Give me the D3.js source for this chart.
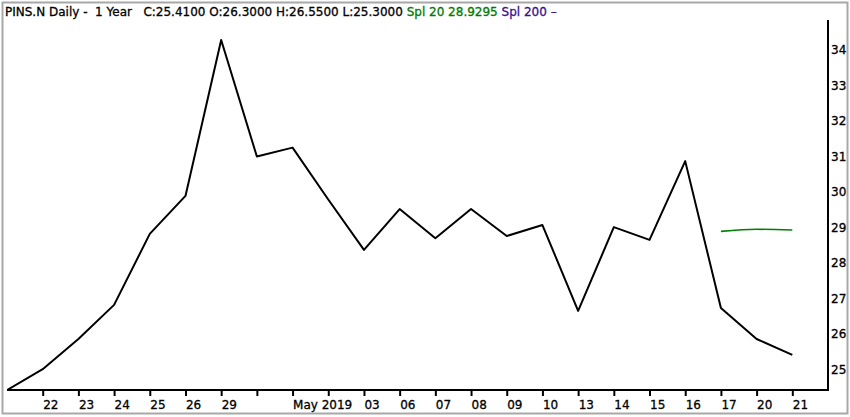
<!DOCTYPE html>
<html><head><meta charset="utf-8">
<script src="https://cdn.jsdelivr.net/npm/d3@7"></script>
<style>body{margin:0;background:#fff}svg{display:block}text{font-family:"DejaVu Sans",sans-serif}</style>
</head><body><svg id="c" width="850" height="417"></svg>
<script>
const tickLabels = ["", "22","23","24","25","26","29","","May 2019","","03","06","07","08","09","10","13","14","15","16","17","20","21"];
const closeValues = [24.42,25.01,25.86,26.82,28.82,29.89,34.28,31.0,31.25,29.79,28.37,29.52,28.70,29.52,28.76,29.07,26.65,29.01,28.65,30.87,26.73,25.86,25.41];
const splIndex = [20,21,22];
const splValues = [28.89,28.95,28.93];
const yTicks = [25,26,27,28,29,30,31,32,33,34];

const svg = d3.select("#c");
const pLeft = 7, pRight = 828, pTop = 20, pBottom = 390;
const x = d3.scaleLinear().domain([0, 23]).range([pLeft, pRight]);
const y = d3.scaleLinear().domain([25, 34]).range([369.5, 50]);

// frame
svg.append("rect").attr("x",2.5).attr("y",2.5).attr("width",845).attr("height",411)
  .attr("fill","none").attr("stroke","#a8a8a8").attr("stroke-width",2);

// clip
svg.append("clipPath").attr("id","pc").append("rect")
  .attr("x",pLeft).attr("y",pTop).attr("width",pRight-pLeft).attr("height",pBottom-pTop);

const g = svg.append("g").attr("clip-path","url(#pc)");
g.append("path").datum(closeValues)
  .attr("fill","none").attr("stroke","#000").attr("stroke-width",2).attr("stroke-linejoin","round")
  .attr("d", d3.line().x((d,i)=>x(i)).y(d=>y(d)));
g.append("path").datum(splValues)
  .attr("fill","none").attr("stroke","#008000").attr("stroke-width",1.6)
  .attr("d", d3.line().x((d,i)=>x(splIndex[i])).y(d=>y(d)).curve(d3.curveMonotoneX));

const tStroke = t => t.attr("stroke-width",0.3).attr("paint-order","stroke");

// x axis
const xAxis = d3.axisBottom(x).tickValues(d3.range(1,23)).tickSize(6).tickSizeOuter(0)
  .tickFormat(i=>tickLabels[i]);
const xg = svg.append("g").attr("transform",`translate(0,${pBottom})`).call(xAxis);
xg.select(".domain").remove();
xg.selectAll(".tick line").attr("stroke","#000").attr("stroke-width",2);
xg.selectAll(".tick text").attr("text-anchor","start").attr("dx",0).attr("y",10)
  .attr("font-size",12).attr("font-family","DejaVu Sans").attr("fill","#000").attr("stroke","#000").call(tStroke);
svg.append("line").attr("x1",pLeft).attr("x2",pRight+1).attr("y1",pBottom).attr("y2",pBottom)
  .attr("stroke","#000").attr("stroke-width",2);

// y axis
const yAxis = d3.axisRight(y).tickValues(yTicks).tickSize(0).tickPadding(3).tickFormat(d3.format("d"));
const yg = svg.append("g").attr("transform",`translate(${pRight},0)`).call(yAxis);
yg.select(".domain").remove();
yg.selectAll(".tick text").attr("font-size",12).attr("font-family","DejaVu Sans").attr("fill","#000").attr("stroke","#000").call(tStroke);
svg.append("line").attr("x1",pRight).attr("x2",pRight).attr("y1",pTop).attr("y2",pBottom+1)
  .attr("stroke","#000").attr("stroke-width",2);

// header
const hdr = svg.append("text").attr("x",5).attr("y",16).attr("font-size",12).attr("fill","#000")
  .attr("stroke","#000").call(tStroke).style("white-space","pre");
hdr.append("tspan").text("PINS.N Daily -  1 Year   C:25.4100 O:26.3000 H:26.5500 L:25.3000 ");
hdr.append("tspan").attr("fill","#007a00").attr("stroke","#007a00").text("Spl 20 28.9295 ");
hdr.append("tspan").attr("fill","#3a0f8f").attr("stroke","#3a0f8f").text("Spl 200 \u2013");
</script></body></html>
